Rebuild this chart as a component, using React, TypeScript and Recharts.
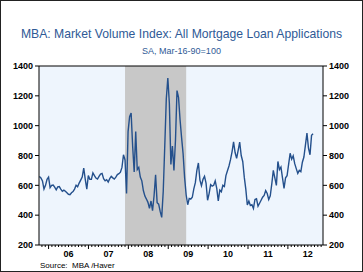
import React from 'react';
import {
  ComposedChart,
  Line,
  XAxis,
  YAxis,
  ReferenceArea,
  ReferenceLine,
  CartesianGrid,
} from 'recharts';

// Bi-weekly readings of the MBA Market Volume Index, starting early Oct 2005
const START_YEAR = 2005.77;
const STEP_YEARS = 14 / 365.25;

const indexValues: number[] = [
  660, 650, 630, 575, 600, 640, 655, 585, 600, 602,
  588, 570, 590, 592, 575, 560, 568, 560, 550, 540,
  537, 550, 558, 575, 600, 590, 615, 635, 655, 716,
  640, 575, 665, 640, 640, 683, 665, 649, 642, 660,
  675, 680, 645, 630, 638, 622, 645, 660, 650, 642,
  655, 672, 678, 688, 720, 805, 770, 545, 960, 1060,
  1085, 860, 690, 960, 705, 720, 655, 630, 565, 528,
  508, 486, 445, 495, 430, 530, 670, 484, 474, 425,
  385, 560, 864, 1180, 1320, 1150, 740, 864, 700, 900,
  1235, 1190, 1040, 920, 810, 650, 535, 470, 512, 508,
  520, 576, 618, 700, 750, 635, 598, 640, 660, 615,
  500, 545, 605, 595, 600, 630, 580, 495, 568, 557,
  600, 592, 665, 698, 730, 772, 825, 892, 820, 781,
  835, 890, 800, 760, 655, 575, 468, 495, 465, 470,
  445, 505, 510, 460, 480, 500, 520, 532, 565, 545,
  505, 530, 610, 700, 650, 600, 760, 705, 722, 650,
  580, 650, 665, 740, 815, 775, 798, 745, 712, 680,
  700, 692, 755, 790, 870, 950, 850, 805, 935, 945,
];

const yTicks: number[] = [200, 400, 600, 800, 1000, 1200, 1400];
const yearLabels: string[] = ['06', '07', '08', '09', '10', '11', '12'];
const firstLabelYear = 2006;
const recessionStart = 2007.917;
const recessionEnd = 2009.45;
const xDomain: [number, number] = [2005.76, 2012.88];

const chartData = indexValues.map((v, i) => ({ t: START_YEAR + i * STEP_YEARS, v }));

const monthTicks: number[] = [];
for (let y = 2005; y <= 2012; y++) {
  for (let m = 0; m < 12; m++) {
    const t = y + m / 12;
    if (t >= xDomain[0] && t <= xDomain[1]) monthTicks.push(t);
  }
}

const FONT = '"Liberation Sans", Arial, Helvetica, sans-serif';
const BLUE = '#2f5a96';

const XTick = (props: any) => {
  const { x, y, payload } = props;
  const v: number = payload.value;
  const yr = Math.floor(v + 1e-6);
  const m = Math.round((v - yr) * 12);
  const len = m === 0 ? 4 : 2;
  const idx = yr - firstLabelYear;
  return (
    <g>
      <line x1={x} x2={x} y1={y} y2={y + len} stroke="#000" strokeWidth={1} />
      {m === 6 && idx >= 0 && idx < yearLabels.length && (
        <text x={x} y={y + 12} textAnchor="middle" fontSize={9} fontWeight="bold" fill="#000" fontFamily={FONT}>
          {yearLabels[idx]}
        </text>
      )}
    </g>
  );
};

const yTickStyle = { fontSize: 9, fill: '#000', fontFamily: FONT, fontWeight: 'bold' as const };

export default function App() {
  return (
    <div
      style={{
        position: 'absolute',
        left: 0,
        top: 0,
        width: 363,
        height: 272,
        boxSizing: 'border-box',
        border: '1px solid #222',
        background: '#fff',
        fontFamily: FONT,
      }}
    >
      <div
        style={{
          position: 'absolute',
          left: 0,
          width: 361,
          top: 26,
          textAlign: 'center',
          fontSize: 12.2,
          color: BLUE,
          whiteSpace: 'nowrap',
        }}
      >
        MBA: Market Volume Index: All Mortgage Loan Applications
      </div>
      <div
        style={{
          position: 'absolute',
          left: 0,
          width: 361,
          top: 45,
          textAlign: 'center',
          fontSize: 9,
          color: BLUE,
          whiteSpace: 'nowrap',
        }}
      >
        SA, Mar-16-90=100
      </div>
      <div style={{ position: 'absolute', left: -1, top: -1 }}>
        <ComposedChart
          width={363}
          height={272}
          data={chartData}
          margin={{ top: 66, right: 0, bottom: 0, left: 0 }}
        >
          <CartesianGrid horizontal={false} vertical={false} fill="#eef5fd" />
          <XAxis
            dataKey="t"
            type="number"
            domain={xDomain}
            ticks={monthTicks}
            tick={<XTick />}
            tickLine={false}
            tickSize={0}
            tickMargin={0}
            interval={0}
            height={27}
            axisLine={{ stroke: '#000' }}
            allowDataOverflow
          />
          <YAxis
            yAxisId="l"
            orientation="left"
            domain={[200, 1400]}
            ticks={yTicks}
            width={39}
            tickSize={4}
            tickMargin={2}
            tick={yTickStyle}
            axisLine={{ stroke: '#000' }}
            tickLine={{ stroke: '#000' }}
            interval={0}
            allowDataOverflow
          />
          <YAxis
            yAxisId="r"
            orientation="right"
            domain={[200, 1400]}
            ticks={yTicks}
            width={40}
            tickSize={4}
            tickMargin={2}
            tick={yTickStyle}
            axisLine={{ stroke: '#000' }}
            tickLine={{ stroke: '#000' }}
            interval={0}
            allowDataOverflow
          />
          <ReferenceArea
            yAxisId="l"
            x1={recessionStart}
            x2={recessionEnd}
            y1={200}
            y2={1400}
            fill="#c8c8c8"
            fillOpacity={1}
            stroke="none"
            ifOverflow="hidden"
          />
          <ReferenceLine yAxisId="r" y={1400} stroke="#000" strokeWidth={1} />
          <Line
            yAxisId="l"
            type="linear"
            dataKey="v"
            stroke="#24508c"
            strokeWidth={1.4}
            dot={false}
            isAnimationActive={false}
          />
        </ComposedChart>
      </div>
      <div
        style={{
          position: 'absolute',
          left: 39,
          top: 260,
          fontSize: 8,
          color: '#000',
          whiteSpace: 'nowrap',
        }}
      >
        Source:&nbsp; MBA /Haver
      </div>
    </div>
  );
}
